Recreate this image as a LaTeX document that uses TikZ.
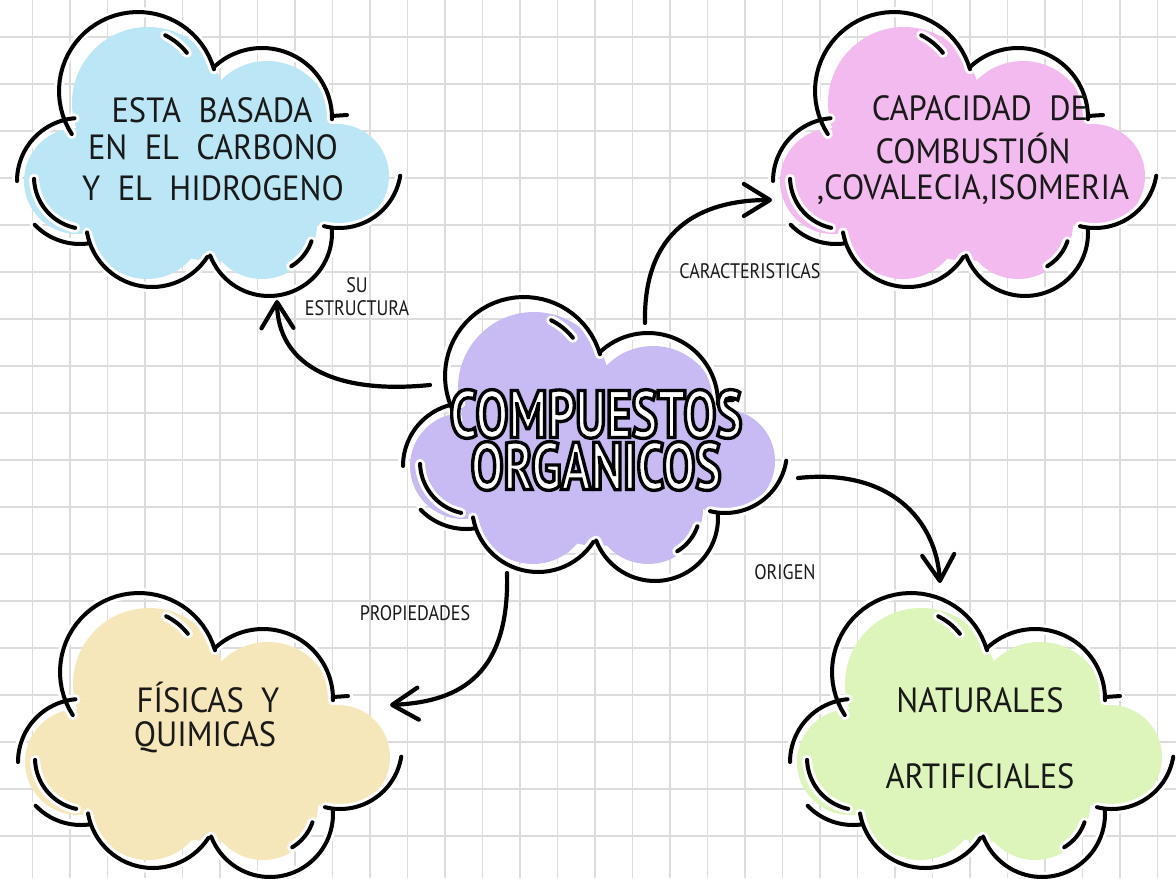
\documentclass[tikz,border=0pt]{standalone}
\usepackage{fontspec}
\newfontfamily\handcloud[FakeStretch=0.93]{PT Sans}
\newfontfamily\handlabel[FakeStretch=0.86]{PT Sans}
\newfontfamily\handtitle[FakeStretch=0.73,FakeBold=5]{PT Sans Bold}
\usetikzlibrary{arrows.meta}
\definecolor{cblue}{RGB}{187,230,246}
\definecolor{cpink}{RGB}{242,186,238}
\definecolor{cpurple}{RGB}{200,186,242}
\definecolor{cyellow}{RGB}{246,231,186}
\definecolor{cgreen}{RGB}{221,245,186}
\definecolor{gridc}{RGB}{220,220,220}
\definecolor{ink}{RGB}{25,25,25}
\newcommand\blackstroke{\special{pdf:literal direct 0 0 0 RG}}
\tikzset{
  cloudtext/.style={font=\handcloud\fontsize{17.5}{21}\selectfont, text=ink, inner sep=0pt},
  labeltext/.style={font=\handlabel\fontsize{10.5}{13}\selectfont, text=ink, inner sep=0pt},
  titletext/.style={font=\handtitle\fontsize{33.5}{26}\selectfont, text=white, inner sep=0pt, align=center},
  conn/.style={line width=2.1pt, line cap=round, -{Straight Barb[length=13pt,width=16pt,round]}},
  halo/.style={line width=5pt, white, line cap=round},
  inkstroke/.style={line width=2pt, black, line cap=round},
  gridline/.style={gridc, line width=0.8pt},
}
\newcommand\cloudstrokes{%
  plot[domain=147:344,samples=40] ({126+79*cos(\x)},{80+79*sin(\x)})
  plot[domain=227:361,samples=40] ({250+70*cos(\x)},{107+70*sin(\x)})
  (320,105) -- (335,104)
  plot[domain=9:104,samples=30] ({327+62*cos(\x)},{155+62*sin(\x)})
  plot[domain=-4:159,samples=40] ({257+63*cos(\x)},{222+63*sin(\x)})
  plot[domain=33:170,samples=30] ({140+66*cos(\x)},{210+66*sin(\x)})
  plot[domain=180:265,samples=25] ({68+63*cos(\x)},{170+63*sin(\x)})
  plot[domain=81:136,samples=20] ({68+63*cos(\x)},{170+63*sin(\x)})
  plot[domain=296:322,samples=12] ({126+62*cos(\x)},{80+62*sin(\x)})
  plot[domain=102:178,samples=20] ({74+52*cos(\x)},{166+52*sin(\x)})
  plot[domain=19:59,samples=12] ({255+47*cos(\x)},{215+47*sin(\x)})
}
\newcommand\drawcloud[3]{%
  \begin{scope}[shift={(#1,#2)}]
    \fill[#3] (136,92) circle[radius=76];
    \fill[#3] (255,115) circle[radius=65];
    \fill[#3] (325,165) circle[radius=52];
    \fill[#3] (250,213) circle[radius=55];
    \fill[#3] (135,210) circle[radius=58];
    \fill[#3] (65,170) circle[radius=53];
    \fill[#3] (200,165) circle[radius=85];
    \draw[halo] \cloudstrokes;
    \draw[inkstroke] \cloudstrokes;
  \end{scope}}
\begin{document}
\begin{tikzpicture}[x=0.5pt,y=-0.5pt]
\useasboundingbox (0,0) rectangle (1176,878);
\fill[white] (0,0) rectangle (1176,878);
\foreach \k in {1,...,31} \draw[gridline] ({-5+37.5*\k},0) -- ({-5+37.5*\k},878);
\foreach \k in {0,...,17} \draw[gridline] (0,{37+47*\k}) -- (1176,{37+47*\k});

\drawcloud{12}{11}{cblue}
\drawcloud{768}{11}{cpink}
\drawcloud{398}{296}{cpurple}
\drawcloud{13}{592}{cyellow}
\drawcloud{785}{592}{cgreen}

% cloud texts
\node[cloudtext] (b1) at (212,110) {ESTA\ \ BASADA};
\node[cloudtext] (b2) at (213,147) {EN\ \ EL\ \ CARBONO};
\node[cloudtext] (b3) at (213,188) {Y\ \ EL\ \ HIDROGENO};
\node[cloudtext] (p1) at (980,108) {CAPACIDAD\ \ DE};
\node[cloudtext] (p2) at (973,148) {COMBUSTIÓN};
\node[cloudtext] (p3) at (973,190) {,COVALECIA,ISOMERIA};
\node[cloudtext] (y1) at (208,697) {FÍSICAS\ \ Y};
\node[cloudtext] (y2) at (205,737) {QUIMICAS};
\node[cloudtext] (g1) at (980,700) {NATURALES};
\node[cloudtext] (g2) at (980,776) {ARTIFICIALES};

% title: white fill, black stroke (emboldening stroke set to black)
\node[titletext] (title) at (596,440) {\blackstroke COMPUESTOS\\\blackstroke ORGANICOS};

% labels
\node[labeltext] (l1) at (357,285) {SU};
\node[labeltext] (l2) at (357,308) {ESTRUCTURA};
\node[labeltext] (l3) at (750,271) {CARACTERISTICAS};
\node[labeltext] (l4) at (785,572) {ORIGEN};
\node[labeltext] (l5) at (415,613) {PROPIEDADES};

% connectors
\coordinate (s1) at (430,385); \coordinate (e1) at (277,300);
\coordinate (s2) at (645,323); \coordinate (e2) at (772,200);
\coordinate (s3) at (798,478); \coordinate (e3) at (940,583);
\coordinate (s4) at (507,573); \coordinate (e4) at (390,705);
\draw[conn] (s1) .. controls (330,395) and (278,362) .. (e1);
\draw[conn] (s2) .. controls (643,230) and (700,200) .. (e2);
\draw[conn] (s3) .. controls (890,468) and (936,520) .. (e3);
\draw[conn] (s4) .. controls (510,682) and (452,702) .. (e4);
\end{tikzpicture}
\end{document}
